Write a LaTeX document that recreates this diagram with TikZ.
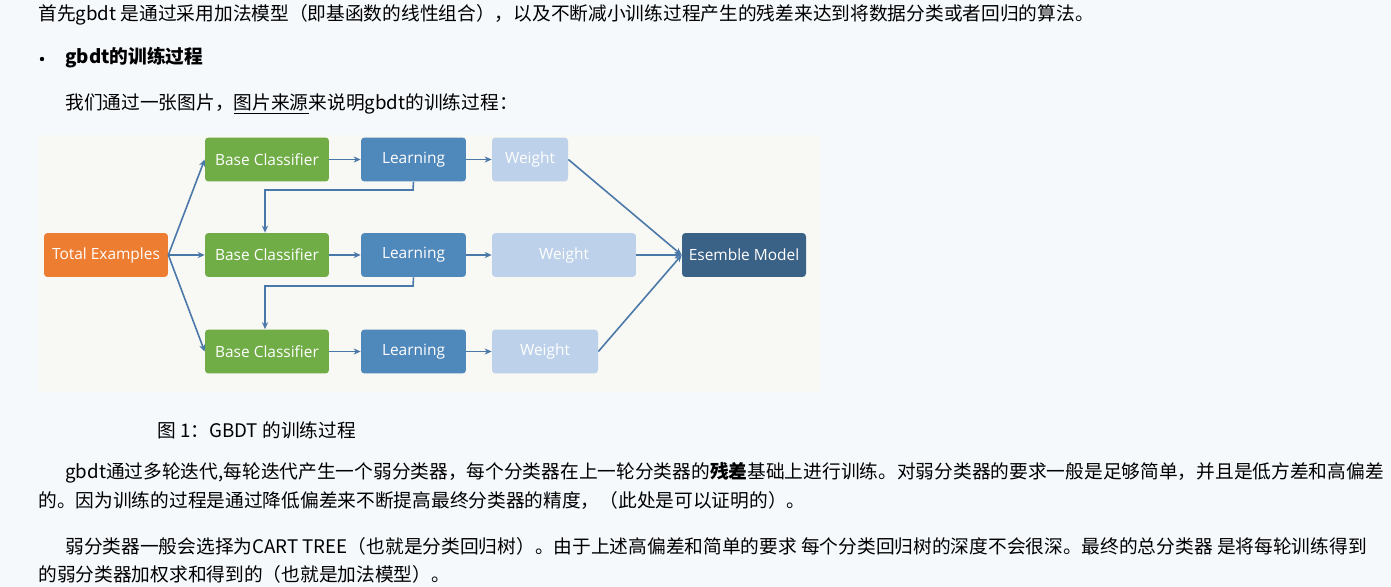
\documentclass[tikz,border=0pt]{standalone}
\usepackage{fontspec}
\setmainfont{Noto Sans CJK SC}
\newfontfamily\boxfont{Open Sans}
\usetikzlibrary{arrows.meta}
\definecolor{pagebg}{HTML}{F5F9FC}
\definecolor{dbg}{HTML}{F8F8F4}
\definecolor{orng}{HTML}{ED7D31}
\definecolor{grn}{HTML}{70AD47}
\definecolor{lrn}{HTML}{4F88BB}
\definecolor{wgt}{HTML}{BDD1EA}
\definecolor{ens}{HTML}{3A6186}
\definecolor{arr}{HTML}{4A78A8}
\tikzset{
  bx/.style={rounded corners=2pt, text=white, font=\boxfont\fontsize{8.8pt}{10pt}\selectfont, inner sep=0pt},
  con/.style={draw=arr, line width=0.9pt, -{Stealth[length=4pt,width=3.5pt]}},
  txt/.style={anchor=west, inner sep=0pt, font=\fontsize{10.65pt}{12pt}\selectfont, text=black}
}
\begin{document}
\begin{tikzpicture}[x=0.02cm,y=-0.02cm]
\useasboundingbox (0,0) rectangle (1391,587);
\fill[pagebg] (0,0) rectangle (1391,587);
\fill[dbg] (38,135) rectangle (820,392);
\node[bx, fill=orng, minimum width=2.48cm, minimum height=0.88cm] (te) at (106,255) {Total Examples};
\foreach \r/\y in {1/159.5,2/255,3/351.5}{
  \node[bx, fill=grn, minimum width=2.48cm, minimum height=0.88cm] (bc\r) at (267,\y) {Base Classifier};
  \node[bx, fill=lrn, minimum width=2.1cm, minimum height=0.88cm] (l\r) at (413.5,\y) {Learning};
}
\node[bx, fill=wgt, minimum width=1.52cm, minimum height=0.88cm] (w1) at (530,159.5) {Weight};
\node[bx, fill=wgt, minimum width=2.88cm, minimum height=0.88cm] (w2) at (564,255) {Weight};
\node[bx, fill=wgt, minimum width=2.12cm, minimum height=0.88cm] (w3) at (545,351.5) {Weight};
\node[bx, fill=ens, minimum width=2.48cm, minimum height=0.88cm] (em) at (744,255) {Esemble Model};
\foreach \r in {1,2,3}{
  \draw[con] (te.east) -- (bc\r.west);
  \draw[con] (bc\r) -- (l\r);
  \draw[con] (l\r) -- (w\r);
  \draw[con] (w\r.east) -- (em.west);
}
\coordinate (k1) at (413,190); \coordinate (k2) at (265,190);
\draw[con] (l1.south) -- (k1) -- (k2) -- (k2 |- bc2.north);
\coordinate (k3) at (413,286); \coordinate (k4) at (265,286);
\draw[con] (l2.south) -- (k3) -- (k4) -- (k4 |- bc3.north);
\node[txt] (t1) at (38,15) {首先gbdt 是通过采用加法模型（即基函数的线性组合），以及不断减小训练过程产生的残差来达到将数据分类或者回归的算法。};
\fill (42,59) circle (2.2);
\node[txt, font=\fontsize{10.65pt}{12pt}\selectfont\bfseries] (t2) at (65,58) {gbdt的训练过程};
\node[txt] (t3) at (65,104) {我们通过一张图片，\underline{图片来源}来说明gbdt的训练过程：};
\node[txt] (t4) at (157,430) {图 1：GBDT 的训练过程};
\node[txt] (t5) at (65,473) {gbdt通过多轮迭代,每轮迭代产生一个弱分类器，每个分类器在上一轮分类器的\textbf{残差}基础上进行训练。对弱分类器的要求一般是足够简单，并且是低方差和高偏差};
\node[txt] (t6) at (38,500) {的。因为训练的过程是通过降低偏差来不断提高最终分类器的精度，（此处是可以证明的）。};
\node[txt] (t7) at (65,546) {弱分类器一般会选择为CART TREE（也就是分类回归树）。由于上述高偏差和简单的要求 每个分类回归树的深度不会很深。最终的总分类器 是将每轮训练得到};
\node[txt] (t8) at (38,574) {的弱分类器加权求和得到的（也就是加法模型）。};
\end{tikzpicture}
\end{document}
